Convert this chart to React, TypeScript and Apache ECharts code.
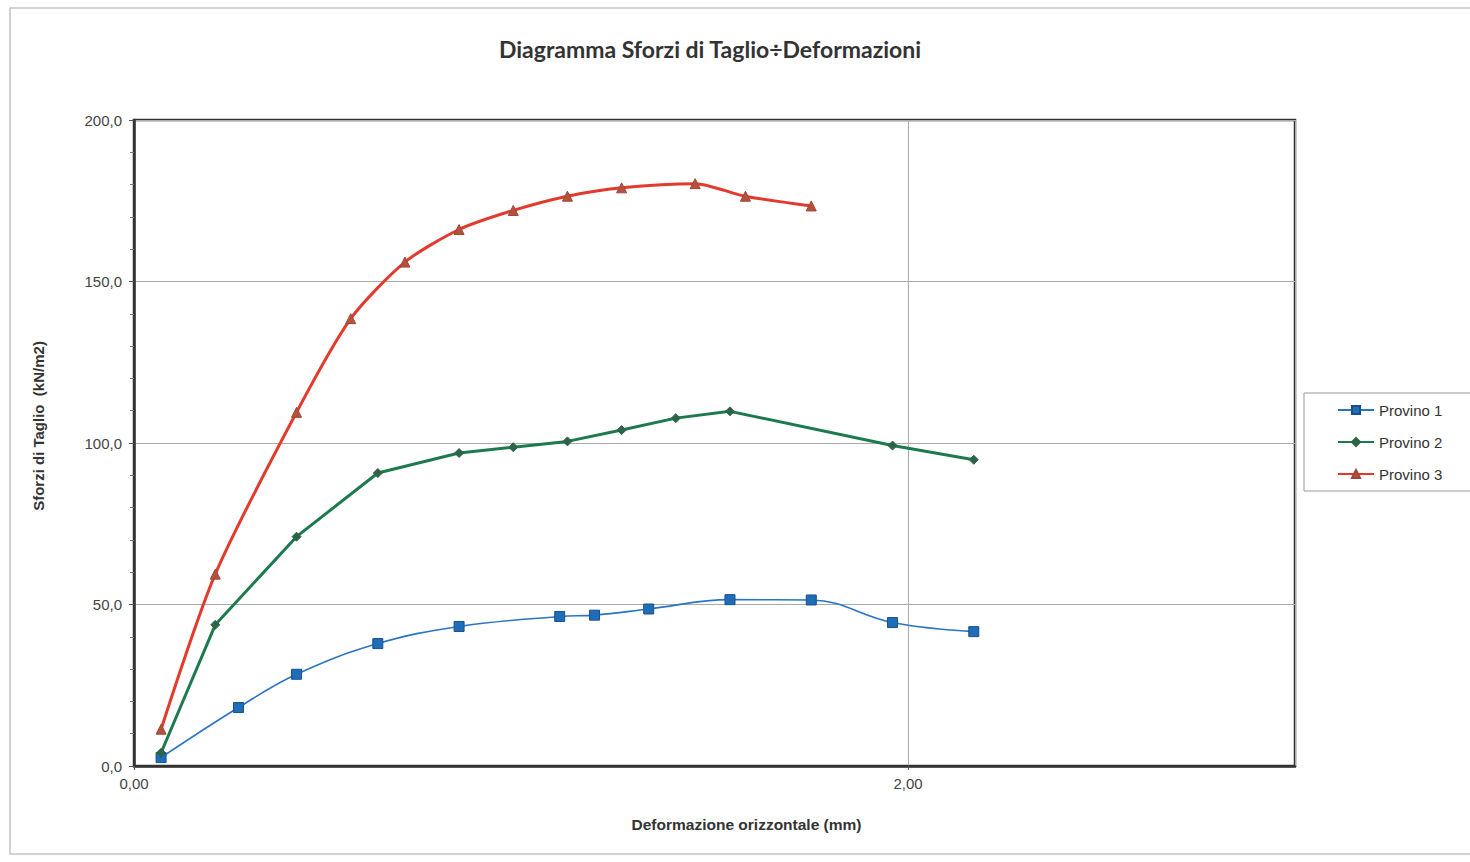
import React, { useEffect, useRef } from "react";
import * as echarts from "echarts";

const titleText = "Diagramma Sforzi di Taglio÷Deformazioni";
const xAxisName = "Deformazione orizzontale (mm)";
const yAxisName = "Sforzi di Taglio  (kN/m2)";
const seriesNames = ["Provino 1", "Provino 2", "Provino 3"];

const p1X = [0.07, 0.27, 0.42, 0.63, 0.84, 1.1, 1.19, 1.33, 1.54, 1.75, 1.96, 2.17];
const p1Y = [2.6, 18.1, 28.4, 37.9, 43.2, 46.3, 46.7, 48.6, 51.5, 51.4, 44.4, 41.6];
const p2X = [0.07, 0.21, 0.42, 0.63, 0.84, 0.98, 1.12, 1.26, 1.4, 1.54, 1.96, 2.17];
const p2Y = [4.1, 43.7, 71.0, 90.7, 96.9, 98.7, 100.5, 104.0, 107.7, 109.8, 99.2, 94.8];
const p3X = [0.07, 0.21, 0.42, 0.56, 0.7, 0.84, 0.98, 1.12, 1.26, 1.45, 1.58, 1.75];
const p3Y = [11.4, 59.4, 109.5, 138.5, 156.0, 166.1, 172.0, 176.4, 179.0, 180.3, 176.4, 173.4];

const zip = (xs: number[], ys: number[]) => xs.map((x, i) => [x, ys[i]]);

export default function App() {
  const ref = useRef<HTMLDivElement>(null);
  useEffect(() => {
    if (!ref.current) return;
    const chart = echarts.init(ref.current, null, { renderer: "svg" });
    const fmtY = (v: number) => v.toFixed(1).replace(".", ",");
    const fmtX = (v: number) => v.toFixed(2).replace(".", ",");
    chart.setOption({
      animation: false,
      backgroundColor: "#ffffff",
      title: {
        text: titleText,
        left: 705,
        top: 32,
        textAlign: "center",
        textStyle: { fontFamily: "Lato", fontWeight: "bold", fontSize: 23, color: "#333" },
      },
      graphic: [
        {
          type: "rect",
          shape: { x: 10, y: 8, width: 1480, height: 846 },
          style: { fill: "none", stroke: "#c4c4c4", lineWidth: 1.5 },
          silent: true,
        },
      ],
      legend: {
        orient: "vertical",
        left: 1304,
        top: 393,
        data: seriesNames,
        backgroundColor: "#fff",
        borderColor: "#999",
        borderWidth: 1,
        padding: [8, 40, 8, 33],
        itemGap: 14,
        itemWidth: 36,
        itemHeight: 10,
        textStyle: { fontFamily: "Liberation Sans", fontSize: 15, color: "#333", lineHeight: 18 },
      },
      grid: {
        left: 134,
        top: 120,
        right: 175,
        bottom: 96,
        outerBoundsMode: "none",
        containLabel: false,
        show: true,
        borderColor: "#333",
        borderWidth: 2.5,
        backgroundColor: "transparent",
      },
      xAxis: {
        type: "value",
        min: 0,
        max: 3,
        interval: 2,
        name: xAxisName,
        nameLocation: "middle",
        nameGap: 50,
        nameTextStyle: {
          fontFamily: "Liberation Sans",
          fontWeight: "bold",
          fontSize: 15.5,
          color: "#333",
          padding: [0, 0, 0, 64],
        },
        axisLine: { show: true, lineStyle: { color: "#333", width: 2.5 } },
        axisTick: { show: true, length: 4, lineStyle: { color: "#555" } },
        axisLabel: {
          formatter: fmtX,
          showMaxLabel: false,
          fontFamily: "Liberation Sans",
          fontSize: 15,
          color: "#444",
          margin: 10,
        },
        splitLine: { show: true, lineStyle: { color: "#aaa", width: 1 } },
      },
      yAxis: {
        type: "value",
        min: 0,
        max: 200,
        interval: 50,
        name: yAxisName,
        nameLocation: "middle",
        nameGap: 88,
        nameRotate: 90,
        nameTextStyle: {
          fontFamily: "Liberation Sans",
          fontWeight: "bold",
          fontSize: 15,
          color: "#333",
          padding: [0, 0, 0, 34],
        },
        axisLine: { show: true, lineStyle: { color: "#333", width: 2.5 } },
        axisTick: { show: true, length: 5, lineStyle: { color: "#555" } },
        minorTick: { show: true, splitNumber: 5, length: 4, lineStyle: { color: "#777" } },
        axisLabel: {
          formatter: fmtY,
          fontFamily: "Liberation Sans",
          fontSize: 15,
          color: "#444",
          margin: 12,
        },
        splitLine: { show: true, lineStyle: { color: "#aaa", width: 1 } },
      },
      series: [
        {
          name: seriesNames[0],
          type: "line",
          data: zip(p1X, p1Y),
          smooth: 0.4,
          symbol: "rect",
          symbolSize: 10,
          lineStyle: { color: "#2a74c4", width: 1.6 },
          itemStyle: { color: "#1f6cb8", borderColor: "#1a4f8a", borderWidth: 1 },
          z: 3,
        },
        {
          name: seriesNames[1],
          type: "line",
          data: zip(p2X, p2Y),
          smooth: false,
          symbol: "diamond",
          symbolSize: 9,
          lineStyle: { color: "#1c7a4e", width: 3 },
          itemStyle: { color: "#2d6448", borderColor: "#2d6448", borderWidth: 1 },
          z: 4,
        },
        {
          name: seriesNames[2],
          type: "line",
          data: zip(p3X, p3Y),
          smooth: 0.25,
          symbol: "triangle",
          symbolSize: 10,
          lineStyle: { color: "#e23b2e", width: 3 },
          itemStyle: { color: "#b5523d", borderColor: "#a04535", borderWidth: 1 },
          z: 5,
        },
      ],
    });
    return () => chart.dispose();
  }, []);
  return (
    <div
      ref={ref}
      style={{ position: "fixed", left: 0, top: 0, width: 1470, height: 862, background: "#fff" }}
    />
  );
}
